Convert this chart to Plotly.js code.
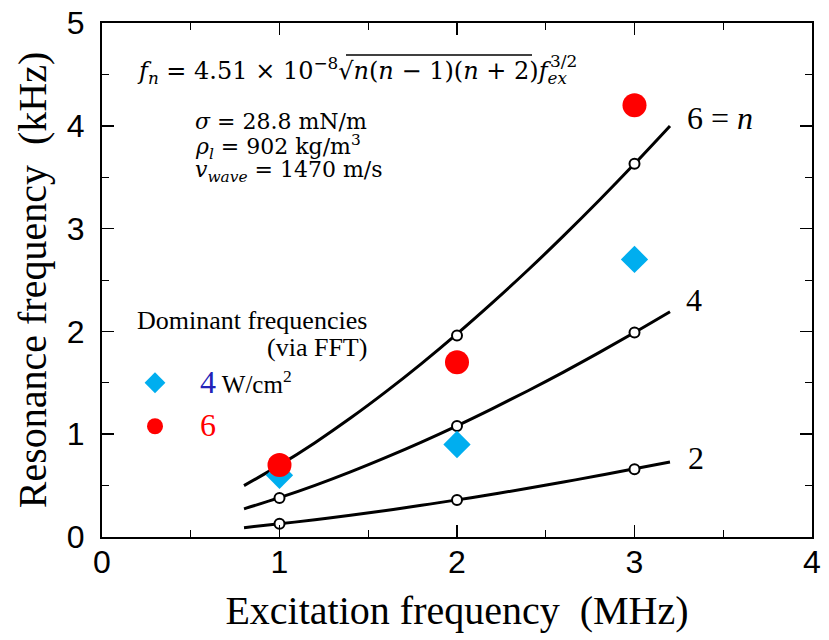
<!DOCTYPE html>
<html>
<head>
<meta charset="utf-8">
<script src="https://cdn.plot.ly/plotly-3.0.1.min.js"></script>
<style>html,body{margin:0;padding:0;background:#fff;}#chart{width:829px;height:640px;}</style>
</head>
<body>
<div id="chart"></div>
<script>
// Theory curves
const curveX = [0.8, 1.0, 1.2, 1.4, 1.6, 1.8, 2.0, 2.2, 2.4, 2.6, 2.8, 3.0, 3.2];
const curveN2 = [0.091, 0.128, 0.168, 0.211, 0.258, 0.308, 0.361, 0.416, 0.474, 0.535, 0.598, 0.663, 0.730];
const curveN4 = [0.274, 0.383, 0.503, 0.634, 0.775, 0.924, 1.082, 1.249, 1.423, 1.604, 1.793, 1.989, 2.191];
const curveN6 = [0.500, 0.699, 0.918, 1.157, 1.414, 1.687, 1.976, 2.280, 2.597, 2.929, 3.273, 3.630, 3.999];
// Open-circle model points
const modelX = [1, 2, 3];
const modelN2 = [0.13, 0.36, 0.66];
const modelN4 = [0.38, 1.08, 1.99];
const modelN6 = [0.70, 1.96, 3.63];
// Dominant frequencies via FFT
const fftX = [1, 2, 3];
const fft4W = [0.60, 0.90, 2.70];
const fft6W = [0.70, 1.70, 4.20];
const curveLabels = ['2', '4', '6 = <i>n</i>'];

const serif = 'Liberation Serif';
const mathFont = 'DejaVu Serif';
const sans = 'Liberation Sans';

function curve(y) {
  return {x: curveX, y: y, mode: 'lines', line: {color: '#000', width: 3, shape: 'spline'},
          showlegend: false, hoverinfo: 'skip'};
}
function model(y) {
  return {x: modelX, y: y, mode: 'markers', showlegend: false,
          marker: {symbol: 'circle', size: 10, color: '#fff', line: {color: '#000', width: 2}}};
}

const traces = [
  curve(curveN2), curve(curveN4), curve(curveN6),
  model(modelN2), model(modelN4), model(modelN6),
  {x: fftX, y: fft4W, mode: 'markers', name: '\u00a0\u00a0\u00a0\u00a0<span style="color:#2323b8;font-size:32px">4</span> W/cm<sup>2</sup>',
   legendgroup: 'a', marker: {symbol: 'diamond', size: 21, color: '#00aeef'}},
  {x: fftX, y: fft6W, mode: 'markers', name: '\u00a0\u00a0\u00a0\u00a0<span style="color:#ff0000;font-size:32px">6</span>',
   legendgroup: 'b', marker: {symbol: 'circle', size: 24, color: '#ff0000'}}
];

const L = 102, R = 812, T = 23, B = 537;
function px(x) { return (x - L) / (R - L); }
function py(y) { return (B - y) / (B - T); }

const axisCommon = {
  showline: true, linecolor: '#000', linewidth: 2, mirror: 'allticks',
  ticks: 'inside', ticklen: 12, tickwidth: 1.5, tickcolor: '#000',
  showgrid: false, zeroline: false,
  tickfont: {family: sans, size: 32, color: '#000'},
  minor: {dtick: 0.5, ticks: 'inside', ticklen: 7, tickwidth: 1, tickcolor: '#000', showgrid: false}
};

const layout = {
  width: 829, height: 640,
  margin: {l: L, r: 829 - R, t: T, b: 640 - B},
  paper_bgcolor: '#fff', plot_bgcolor: '#fff',
  xaxis: Object.assign({}, axisCommon, {range: [0, 4], dtick: 1, tick0: 0, ticklabelstandoff: -4,
    title: {text: 'Excitation frequency\u00a0\u00a0(MHz)', font: {family: serif, size: 40, color: '#000'}, standoff: 17}}),
  yaxis: Object.assign({}, axisCommon, {range: [0, 5], dtick: 1, tick0: 0, ticklabelstandoff: 9,
    title: {text: 'Resonance frequency\u00a0\u00a0(kHz)', font: {family: serif, size: 40, color: '#000'}, standoff: 8}}),
  showlegend: true,
  legend: {x: px(135), y: py(360), xanchor: 'left', yanchor: 'top', bgcolor: 'rgba(0,0,0,0)',
           font: {family: serif, size: 25, color: '#000'}, tracegroupgap: 8, itemsizing: 'trace'},
  annotations: [
    {xref: 'paper', yref: 'paper', x: px(135), y: py(70), xanchor: 'left', yanchor: 'middle', showarrow: false,
     font: {family: mathFont, size: 24, color: '#000'},
     text: '<i>f</i><sub><i>n</i></sub> = 4.51 × 10<sup>−8</sup>√<i>n</i>(<i>n</i> − 1)(<i>n</i> + 2)<i>f</i><sub><i>ex</i></sub>'},
    {xref: 'paper', yref: 'paper', x: px(548), y: py(61), xanchor: 'left', yanchor: 'middle', showarrow: false,
     font: {family: mathFont, size: 17, color: '#000'}, text: '3/2'},
    {xref: 'paper', yref: 'paper', x: px(193), y: py(122), xanchor: 'left', yanchor: 'middle', showarrow: false,
     font: {family: mathFont, size: 22, color: '#000'}, text: '<i>σ</i> = 28.8 mN/m'},
    {xref: 'paper', yref: 'paper', x: px(193), y: py(147), xanchor: 'left', yanchor: 'middle', showarrow: false,
     font: {family: mathFont, size: 22, color: '#000'}, text: '<i>ρ</i><sub><i>l</i></sub> = 902 kg/m<sup>3</sup>'},
    {xref: 'paper', yref: 'paper', x: px(193), y: py(172), xanchor: 'left', yanchor: 'middle', showarrow: false,
     font: {family: mathFont, size: 22, color: '#000'}, text: '<i>v</i><sub><i>wave</i></sub> = 1470 m/s'},
    {xref: 'paper', yref: 'paper', x: px(369), y: py(321), xanchor: 'right', yanchor: 'middle', showarrow: false,
     align: 'right', font: {family: serif, size: 26, color: '#000'}, text: 'Dominant frequencies'},
    {xref: 'paper', yref: 'paper', x: px(369), y: py(347), xanchor: 'right', yanchor: 'middle', showarrow: false,
     align: 'right', font: {family: serif, size: 26, color: '#000'}, text: '(via FFT)'},
    {xref: 'paper', yref: 'paper', x: px(686), y: py(458), xanchor: 'left', yanchor: 'middle', showarrow: false,
     font: {family: serif, size: 32, color: '#000'}, text: curveLabels[0]},
    {xref: 'paper', yref: 'paper', x: px(684), y: py(300), xanchor: 'left', yanchor: 'middle', showarrow: false,
     font: {family: serif, size: 32, color: '#000'}, text: curveLabels[1]},
    {xref: 'paper', yref: 'paper', x: px(685), y: py(118), xanchor: 'left', yanchor: 'middle', showarrow: false,
     font: {family: serif, size: 32, color: '#000'}, text: curveLabels[2]}
  ],
  shapes: [
    {type: 'line', xref: 'paper', yref: 'paper', x0: px(346), x1: px(532), y0: py(55), y1: py(55),
     line: {color: '#000', width: 1.5}}
  ]
};

Plotly.newPlot('chart', traces, layout, {displayModeBar: false, staticPlot: true});
</script>
</body>
</html>
